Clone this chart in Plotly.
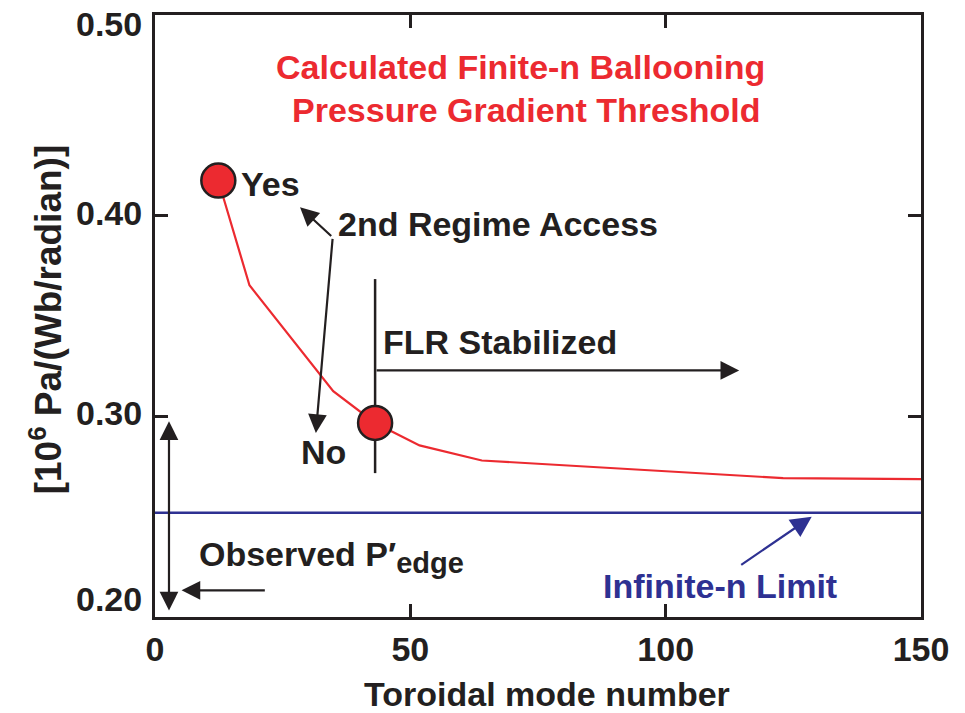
import plotly.graph_objects as go

# Finite-n ballooning threshold vs toroidal mode number
mode_n = [12.4, 18.5, 34.9, 43.1, 51.8, 64.0, 123.0, 150.0]
threshold = [0.4175, 0.3653, 0.3125, 0.2967, 0.2855, 0.2780, 0.2692, 0.2687]

# highlighted cases: 2nd-regime access (Yes) and FLR-stabilized point
marker_n = [12.4, 43.1]
marker_p = [0.4175, 0.2967]

# infinite-n ballooning limit
infinite_n_limit = 0.252

x_ticks = [0, 50, 100, 150]
y_ticks = [0.20, 0.30, 0.40, 0.50]
y_tick_text = ["0.20", "0.30", "0.40", "0.50"]

INK = "#231f20"
RED = "#ec2a30"
BLUE = "#2e3192"
FONT = "Liberation Sans, Arial, Helvetica, sans-serif"
FS = 34

fig = go.Figure()

fig.add_trace(go.Scatter(
    x=[0, 150], y=[infinite_n_limit, infinite_n_limit], mode="lines",
    line=dict(color=BLUE, width=2.5), hoverinfo="skip", showlegend=False))

fig.add_trace(go.Scatter(
    x=mode_n, y=threshold, mode="lines",
    line=dict(color=RED, width=2.2), showlegend=False))

# FLR boundary line through the second marker
fig.add_shape(type="line", x0=43.1, x1=43.1, y0=0.2717, y1=0.3684,
              xref="x", yref="y", line=dict(color=INK, width=2.5), layer="below")

fig.add_trace(go.Scatter(
    x=marker_n, y=marker_p, mode="markers",
    marker=dict(size=34, color=RED, line=dict(color=INK, width=2.5)),
    showlegend=False))


def label(text, x, y, color=INK, xanchor="left", size=FS, xref="x", yref="y",
          angle=0, xshift=0, yshift=0):
    fig.add_annotation(text=text, x=x, y=y, xref=xref, yref=yref, showarrow=False,
                       xanchor=xanchor, yanchor="middle", textangle=angle,
                       xshift=xshift, yshift=yshift,
                       font=dict(family=FONT, size=size, color=color, weight="bold"))


def arrow(x, y, ax, ay, color=INK, width=2.2, size=1.7, head=2, side="end"):
    fig.add_annotation(text="", x=x, y=y, ax=ax, ay=ay, xref="x", yref="y",
                       axref="x", ayref="y", showarrow=True, arrowhead=head,
                       startarrowhead=head, arrowside=side, arrowsize=size,
                       startarrowsize=size, arrowwidth=width, arrowcolor=color,
                       standoff=0, startstandoff=0)


label("Calculated Finite-n Ballooning", 71.6, 0.4742, color=RED, xanchor="center")
label("Pressure Gradient Threshold", 72.7, 0.4529, color=RED, xanchor="center")

label("Yes", 16.4, 0.4158)
label("2nd Regime Access", 35.5, 0.3958)
arrow(28.4, 0.4042, 34.8, 0.3892)
arrow(31.5, 0.2917, 34.8, 0.3892)
label("No", 32.96, 0.2821, xanchor="center")

label("FLR Stabilized", 44.2, 0.3368)
arrow(114.4, 0.3229, 43.1, 0.3229)

label("Observed P\u2032<sub><span style='font-size:29px'>edge</span></sub>", 8.3, 0.2300)
arrow(2.74, 0.2033, 2.74, 0.2983, side="end+start")
arrow(5.2, 0.2133, 21.8, 0.2133)

label("Infinite-n Limit", 110.55, 0.2157, color=BLUE, xanchor="center")
arrow(128.6, 0.2500, 114.5, 0.2255, color=BLUE, width=2.2, size=1.9)

# y tick labels, the end ones pulled inside the frame
for val, txt in zip(y_ticks, y_tick_text):
    nudge = 3
    if val == max(y_ticks):
        nudge = -9
    elif val == min(y_ticks):
        nudge = 18
    fig.add_annotation(text=txt, x=0, y=val, xref="paper", yref="y", showarrow=False,
                       xanchor="right", yanchor="middle", xshift=-11, yshift=nudge,
                       font=dict(family=FONT, size=FS, color=INK, weight="bold"))

# axis titles
label("[10<sup>6</sup> Pa/(Wb/radian)]", -0.1423, 0.4945, xanchor="center",
      xref="paper", yref="paper", angle=-90, size=37)
label("Toroidal mode number", 0.5117, -0.128, xanchor="center",
      xref="paper", yref="paper")

axis_common = dict(
    showline=True, linecolor=INK, linewidth=3, mirror="ticks",
    ticks="inside", ticklen=13, tickwidth=3, tickcolor=INK,
    showgrid=False, zeroline=False, automargin=False,
    tickfont=dict(family=FONT, size=FS, color=INK, weight="bold"),
)

fig.update_xaxes(range=[0, 150], tickvals=x_ticks, ticklabelstandoff=0, **axis_common)
fig.update_yaxes(range=[0.2, 0.5], tickvals=y_ticks, showticklabels=False, **axis_common)

fig.update_layout(
    width=965, height=713,
    margin=dict(l=155, r=44, t=15, b=96),
    paper_bgcolor="white", plot_bgcolor="white",
    showlegend=False,
)

fig.write_html("out.html")
